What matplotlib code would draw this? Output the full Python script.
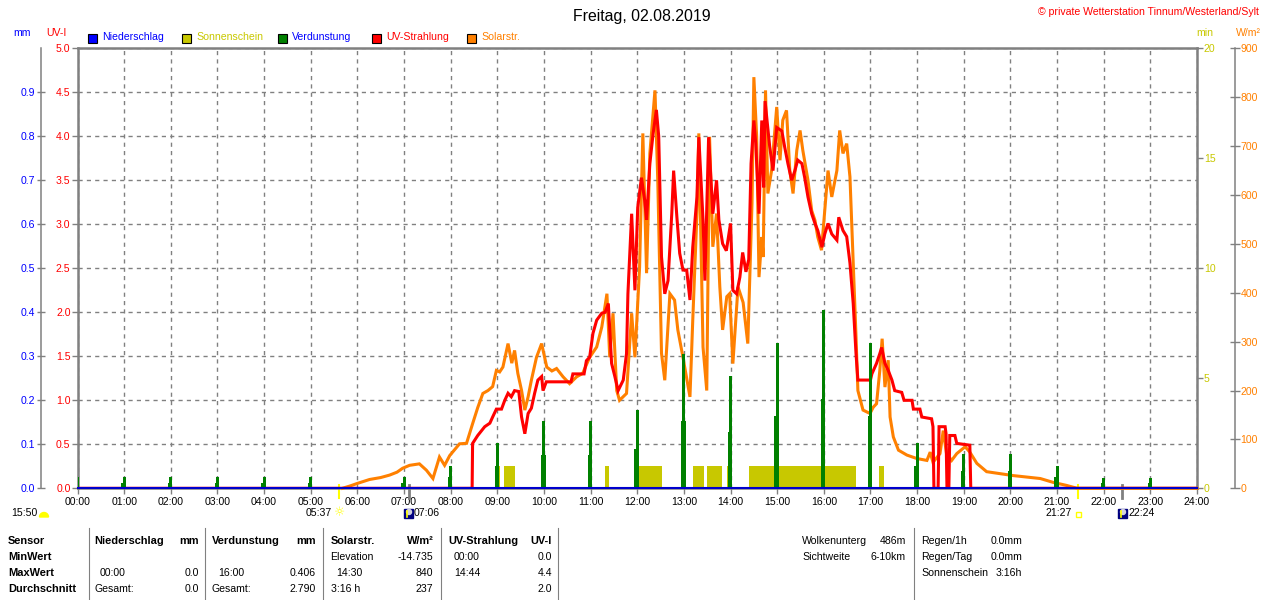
import numpy as np
import matplotlib
matplotlib.use('Agg')
from matplotlib import pyplot as plt
from matplotlib.patches import Rectangle, Wedge, Circle
from matplotlib.lines import Line2D
from matplotlib.transforms import IdentityTransform

W, H = 1280, 600

# DATA
hours = list(range(25))
hour_labels = ['%02d:00' % h for h in hours]

# Solarstrahlung, W/m2
solar_t = [5.68, 5.85, 6.00, 6.26, 6.50, 6.69, 6.85, 6.97, 7.12, 7.33, 7.48, 7.62, 7.76, 7.87,
           7.98, 8.19, 8.34, 8.47, 8.58, 8.69, 8.80, 8.90, 8.98, 9.05, 9.12, 9.23, 9.31, 9.37,
           9.44, 9.52, 9.59, 9.66, 9.73, 9.84, 9.95, 10.06, 10.17, 10.27, 10.41, 10.55, 10.70,
           10.83, 10.98, 11.13, 11.24, 11.35, 11.41, 11.48, 11.56, 11.62, 11.77, 11.88, 11.95,
           12.05, 12.12, 12.20, 12.27, 12.38, 12.44, 12.52, 12.59, 12.70, 12.80, 12.87, 12.98,
           13.13, 13.19, 13.28, 13.32, 13.41, 13.49, 13.55, 13.62, 13.70, 13.77, 13.83, 13.92,
           13.98, 14.05, 14.16, 14.27, 14.37, 14.46, 14.50, 14.56, 14.61, 14.67, 14.70, 14.75,
           14.80, 14.88, 14.99, 15.06, 15.12, 15.20, 15.27, 15.34, 15.42, 15.49, 15.55, 15.66,
           15.74, 15.81, 15.87, 15.95, 16.02, 16.09, 16.17, 16.28, 16.34, 16.41, 16.49, 16.56,
           16.63, 16.69, 16.73, 16.84, 16.99, 17.06, 17.13, 17.20, 17.25, 17.31, 17.38, 17.42,
           17.49, 17.60, 17.78, 17.99, 18.21, 18.28, 18.34, 18.49, 18.56, 18.63, 18.74, 18.85,
           19.03, 19.13, 19.28, 19.49, 19.78, 20.06, 20.35, 20.64, 20.92, 21.20, 21.43, 24.00]
solar_w = [0, 5, 10, 18, 22, 27, 33, 41, 47, 50, 37, 20, 64, 47,
           67, 91, 92, 132, 165, 194, 200, 208, 241, 238, 248, 296, 256, 282,
           235, 200, 160, 187, 221, 268, 296, 248, 240, 245, 228, 214, 228,
           235, 268, 289, 330, 398, 268, 358, 200, 180, 194, 358, 268,
           452, 726, 440, 685, 814, 630, 276, 221, 398, 385, 324, 268,
           187, 344, 562, 726, 289, 200, 719, 494, 562, 412, 324, 392,
           398, 255, 412, 380, 296, 583, 841, 719, 432, 514, 473, 814,
           603, 650, 780, 671, 753, 773, 650, 603, 691, 732, 691, 630,
           568, 548, 514, 487, 568, 650, 596, 650, 732, 685, 705, 637,
           460, 310, 200, 160, 153, 166, 173, 241, 306, 207, 262, 146,
           105, 78, 68, 61, 57, 74, 53, 71, 118, 71, 57, 71,
           85, 74, 51, 34, 30, 26, 23, 20, 12, 6, 0, 0]

# UV-Strahlung, UV-I
uv_t = [0.00, 8.46, 8.47, 8.58, 8.73, 8.84, 8.90, 8.98, 9.09, 9.16, 9.23, 9.30, 9.37, 9.46,
        9.52, 9.59, 9.66, 9.73, 9.80, 9.87, 9.95, 9.98, 10.05, 10.58, 10.62, 10.86, 10.91,
        10.98, 11.05, 11.13, 11.24, 11.31, 11.38, 11.45, 11.52, 11.59, 11.70, 11.77, 11.80,
        11.88, 11.95, 12.01, 12.09, 12.16, 12.20, 12.27, 12.34, 12.41, 12.46, 12.52, 12.59,
        12.66, 12.74, 12.78, 12.85, 12.91, 12.98, 13.06, 13.13, 13.19, 13.28, 13.32, 13.41,
        13.45, 13.53, 13.62, 13.70, 13.75, 13.83, 13.91, 14.00, 14.05, 14.13, 14.20, 14.26,
        14.33, 14.39, 14.44, 14.50, 14.54, 14.61, 14.67, 14.71, 14.74, 14.84, 14.91, 14.99,
        15.10, 15.16, 15.23, 15.31, 15.38, 15.44, 15.53, 15.59, 15.66, 15.74, 15.81, 15.87,
        15.96, 16.02, 16.09, 16.17, 16.28, 16.32, 16.41, 16.49, 16.56, 16.63, 16.69, 16.73,
        17.00, 17.03, 17.13, 17.20, 17.24, 17.31, 17.38, 17.46, 17.52, 17.67, 17.72, 17.89,
        17.92, 18.06, 18.10, 18.31, 18.34, 18.36, 18.45, 18.47, 18.60, 18.62, 18.64, 18.68,
        18.70, 18.81, 18.85, 19.13, 19.15, 24.00]
uv_i = [0.00, 0.00, 0.51, 0.60, 0.70, 0.74, 0.81, 0.90, 0.90, 1.00, 1.08, 1.04, 1.11, 1.10,
        0.81, 0.62, 0.85, 0.91, 1.08, 1.23, 1.27, 1.11, 1.21, 1.21, 1.30, 1.30, 1.45,
        1.49, 1.76, 1.91, 1.99, 2.00, 2.10, 1.42, 1.27, 1.11, 1.23, 1.53, 2.21,
        3.12, 2.25, 3.19, 3.53, 3.27, 3.05, 3.69, 4.03, 4.30, 4.00, 2.63, 2.21,
        2.36, 3.12, 3.61, 3.08, 2.67, 2.48, 2.48, 2.14, 2.74, 3.31, 3.99, 3.05,
        2.36, 3.99, 3.12, 3.50, 3.05, 2.78, 2.70, 3.01, 2.25, 2.21, 2.40, 2.68,
        2.46, 2.60, 3.69, 4.18, 3.92, 3.12, 4.18, 3.42, 4.40, 3.88, 3.61, 4.10,
        4.06, 3.88, 3.69, 3.50, 3.61, 3.73, 3.69, 3.53, 3.31, 3.12, 3.01, 2.93,
        2.74, 2.89, 3.01, 2.89, 2.82, 3.08, 2.93, 2.86, 2.56, 2.10, 1.53, 1.23,
        1.23, 1.30, 1.42, 1.53, 1.60, 1.42, 1.34, 1.23, 1.11, 1.09, 1.00, 1.00,
        0.90, 0.90, 0.81, 0.79, 0.70, 0.00, 0.00, 0.70, 0.70, 0.62, 0.00, 0.00,
        0.60, 0.60, 0.51, 0.49, 0.00, 0.00]

# Verdunstung per hour, mm
evap_t = list(range(24))
evap_mm = [0.026, 0.025, 0.025, 0.025, 0.025, 0.025, 0.0, 0.026, 0.050, 0.103, 0.153, 0.153,
           0.179, 0.306, 0.255, 0.330, 0.406, 0.330, 0.103, 0.077, 0.077, 0.051, 0.023, 0.023]

# Niederschlag, mm
rain_t = [0, 24]
rain_mm = [0.0, 0.0]

# Sonnenschein, minutes of sun per minute
sun_start = [9.01, 9.14, 11.30, 12.04, 13.20, 13.49, 13.92, 14.40, 17.19]
sun_end = [9.06, 9.37, 11.39, 12.52, 13.43, 13.81, 13.96, 16.70, 17.28]
sun_min = [1.0, 1.0, 1.0, 1.0, 1.0, 1.0, 1.0, 1.0, 1.0]

sunrise, sunset = 5 + 37/60, 21 + 27/60
moonrise, moonset = 7 + 6/60, 22 + 24/60

legend_names = ['Niederschlag', 'Sonnenschein', 'Verdunstung', 'UV-Strahlung', 'Solarstr.']
legend_boxes = ['#0000ff', '#c8c800', '#008000', '#ff0000', '#ff8000']
legend_texts = ['#0000ff', '#c8c800', '#0000ff', '#ff0000', '#ff8000']

row_names = ['Sensor', 'MinWert', 'MaxWert', 'Durchschnitt']
table_cells = [  # (x, row, text, align, bold)
    (94.7, 0, 'Niederschlag', 'left', True), (198.8, 0, 'mm', 'right', True),
    (211.8, 0, 'Verdunstung', 'left', True), (316, 0, 'mm', 'right', True),
    (330.6, 0, 'Solarstr.', 'left', True), (433.5, 0, 'W/m²', 'right', True),
    (448, 0, 'UV-Strahlung', 'left', True), (552, 0, 'UV-I', 'right', True),
    (330.6, 1, 'Elevation', 'left', False), (433.5, 1, '-14.735', 'right', False),
    (453.9, 1, '00:00', 'left', False), (552, 1, '0.0', 'right', False),
    (100, 2, '00:00', 'left', False), (198.8, 2, '0.0', 'right', False),
    (218.4, 2, '16:00', 'left', False), (316, 2, '0.406', 'right', False),
    (336.7, 2, '14:30', 'left', False), (433.5, 2, '840', 'right', False),
    (453.9, 2, '14:44', 'left', False), (552, 2, '4.4', 'right', False),
    (94.7, 3, 'Gesamt:', 'left', False), (198.8, 3, '0.0', 'right', False),
    (211.8, 3, 'Gesamt:', 'left', False), (316, 3, '2.790', 'right', False),
    (330.6, 3, '3:16 h', 'left', False), (433.5, 3, '237', 'right', False),
    (552, 3, '2.0', 'right', False),
    (802.4, 0, 'Wolkenunterg', 'left', False), (906, 0, '486m', 'right', False),
    (802.4, 1, 'Sichtweite', 'left', False), (906, 1, '6-10km', 'right', False),
    (921, 0, 'Regen/1h', 'left', False), (1022.4, 0, '0.0mm', 'right', False),
    (921, 1, 'Regen/Tag', 'left', False), (1022.4, 1, '0.0mm', 'right', False),
    (921, 2, 'Sonnenschein', 'left', False), (1022.4, 2, '3:16h', 'right', False),
]
row_y = [541.5, 557.5, 573.5, 589.5]
separators = [88.6, 205.3, 323, 441, 558.4, 913.5]

GRAY = '#808080'
FS = 7.6

plt.rcParams['font.family'] = ['Liberation Sans', 'DejaVu Sans']
plt.rcParams['font.size'] = FS


def fx(x):
    return x / W


def fy(y):
    return 1 - y / H


fig = plt.figure(figsize=(12.8, 6.0), dpi=100)
fig.patch.set_facecolor('white')

# MAIN AXES (UV scale, grid and frame)
left, right, top, bottom = 77.5, 1197.0, 48.3, 488.3
ax = fig.add_axes([fx(left), fy(bottom), (right - left) / W, (bottom - top) / H])
ax_sun = ax.twinx()
ax_sol = ax.twinx()
ax_uv = ax.twinx()
ax_mm = ax.twinx()

ax.set_xlim(0, 24)
ax.set_ylim(0, 5)
ax.set_xticks(hours)
ax.set_xticklabels(hour_labels)
ax.set_yticks(np.arange(0, 5.01, 0.5))
ax.yaxis.set_major_formatter('{x:.1f}')
ax.grid(True, color=GRAY, ls=(0, (3, 3)), lw=1.0)
ax.tick_params(axis='x', direction='out', length=4, width=1, color=GRAY, pad=2,
               labelsize=FS, labelcolor='black')
ax.tick_params(axis='y', direction='out', length=4, width=1, color=GRAY, pad=1,
               labelsize=FS, labelcolor='red')
for s in ax.spines.values():
    s.set_color(GRAY)
    s.set_linewidth(1.8)

# Sonnenschein
ax_sun.set_ylim(0, 20)
ax_sun.set_yticks([0, 5, 10, 15, 20])
ax_sun.yaxis.set_major_formatter('{x:.0f}')
ax_sun.tick_params(axis='y', direction='out', length=4, width=1, color=GRAY, pad=1,
                   labelsize=FS, labelcolor='#c8c800')
for s in ax_sun.spines.values():
    s.set_visible(False)
ax_sun.bar(sun_start, sun_min, width=np.array(sun_end) - np.array(sun_start), align='edge',
           color='#c8c800', linewidth=0)

# Solarstrahlung
ax_sol.set_ylim(0, 900)
ax_sol.set_yticks(np.arange(0, 901, 100))
ax_sol.tick_params(axis='y', direction='inout', length=6.5, width=1, color=GRAY, pad=1.2,
                   labelsize=FS, labelcolor='#ff8000')
for name, s in ax_sol.spines.items():
    s.set_visible(name == 'right')
ax_sol.spines['right'].set_position(('axes', (1234.5 - left) / (right - left)))
ax_sol.spines['right'].set_color(GRAY)
ax_sol.spines['right'].set_linewidth(1.1)
ax_sol.plot(solar_t, solar_w, color='#ff8000', lw=2.2, clip_on=False, solid_joinstyle='miter')

# UV-Strahlung
ax_uv.set_ylim(0, 5)
ax_uv.set_yticks([])
for s in ax_uv.spines.values():
    s.set_visible(False)
ax_uv.plot(uv_t, uv_i, color='#ff0000', lw=2.2, solid_joinstyle='miter')

# Verdunstung + Niederschlag
ax_mm.set_ylim(0, 1.0)
ax_mm.yaxis.tick_left()
ax_mm.set_yticks(np.arange(0, 0.91, 0.1))
ax_mm.yaxis.set_major_formatter('{x:.1f}')
ax_mm.tick_params(axis='y', direction='inout', length=6, width=1, color=GRAY, pad=1,
                  labelsize=FS, labelcolor='#0000ff')
for name, s in ax_mm.spines.items():
    s.set_visible(name == 'left')
ax_mm.spines['left'].set_position(('axes', (40.7 - left) / (right - left)))
ax_mm.spines['left'].set_color(GRAY)
ax_mm.spines['left'].set_linewidth(1.1)
ax_mm.bar(evap_t, evap_mm, width=0.065, color='#008000', linewidth=0)
ax_mm.bar(np.array(evap_t) - 0.012, np.array(evap_mm) / 2, width=0.095, color='#008000', linewidth=0)
ax_mm.plot(rain_t, rain_mm, color='#0000cc', lw=1.5, clip_on=False)

# sun / moon marks below the axis
xt = ax.get_xaxis_transform()
for t, c, lw in [(sunrise, '#ffff00', 1.5), (sunset, '#ffff00', 1.5),
                 (moonrise, GRAY, 2.0), (moonset, GRAY, 2.0)]:
    ax.add_line(Line2D([t, t], [0.008, -0.022], transform=xt, color=c, lw=lw, clip_on=False))

ty = fy(513.5)
fig.text(fx(37.5), ty, '15:50', ha='right', va='center')
fig.add_artist(Wedge((44, H - 517), 4.5, 0, 180, color='#ffff00', transform=IdentityTransform()))
fig.text(fx(332), ty, '05:37', ha='right', va='center')
fig.text(fx(339.5), fy(513), '☼', ha='center', va='center', color='#ffff00',
         family='DejaVu Sans', fontsize=9)
fig.text(fx(414), ty, '07:06', ha='left', va='center')
fig.text(fx(1072), ty, '21:27', ha='right', va='center')
fig.add_artist(Rectangle((1076, H - 517), 5, 5, fill=False, edgecolor='#ffff00', lw=1,
                         transform=IdentityTransform()))
fig.text(fx(1128.5), ty, '22:24', ha='left', va='center')
for mx in [403.5, 1117.5]:
    fig.add_artist(Rectangle((mx, H - 518), 9, 9, color='#000080', transform=IdentityTransform()))
    fig.add_artist(Circle((mx + 5.5, H - 512), 2.5, color='#d0d0e0', transform=IdentityTransform()))
    fig.add_artist(Line2D([mx + 3, mx + 3], [H - 517, H - 511], color='#ffff00', lw=1.2,
                          transform=IdentityTransform()))

# TITLE / UNITS / LEGEND
fig.text(fx(642), fy(16), 'Freitag, 02.08.2019', ha='center', va='center', fontsize=11.4)
fig.text(fx(1259), fy(12), '© private Wetterstation Tinnum/Westerland/Sylt', ha='right',
         va='center', color='red', fontsize=FS)
fig.text(fx(22), fy(33.5), 'mm', ha='center', va='center', color='#0000ff')
fig.text(fx(56.5), fy(33.5), 'UV-I', ha='center', va='center', color='red')
fig.text(fx(1205), fy(33.5), 'min', ha='center', va='center', color='#c8c800')
fig.text(fx(1248), fy(33.5), 'W/m²', ha='center', va='center', color='#ff8000')
for x0, name, bc, tc in zip([88, 182, 277.5, 372, 467], legend_names, legend_boxes, legend_texts):
    fig.add_artist(Rectangle((x0, H - 42.5), 9, 9, facecolor=bc, edgecolor='black', lw=0.8,
                             transform=IdentityTransform()))
    fig.text(fx(x0 + 14), fy(37.5), name, ha='left', va='center', color=tc)

# BOTTOM TABLE
for r, name in enumerate(row_names):
    fig.text(fx(8), fy(row_y[r]), name, ha='left', va='center', fontweight='bold', fontsize=7.9)
for x, r, txt, al, bold in table_cells:
    fig.text(fx(x), fy(row_y[r]), txt, ha=al, va='center',
             fontweight='bold' if bold else 'normal', fontsize=7.9 if bold else FS)
for sx in separators:
    fig.add_artist(Line2D([fx(sx), fx(sx)], [fy(528), fy(600)], color=GRAY, lw=0.8))

fig.savefig('out.png', dpi=100, facecolor='white')
